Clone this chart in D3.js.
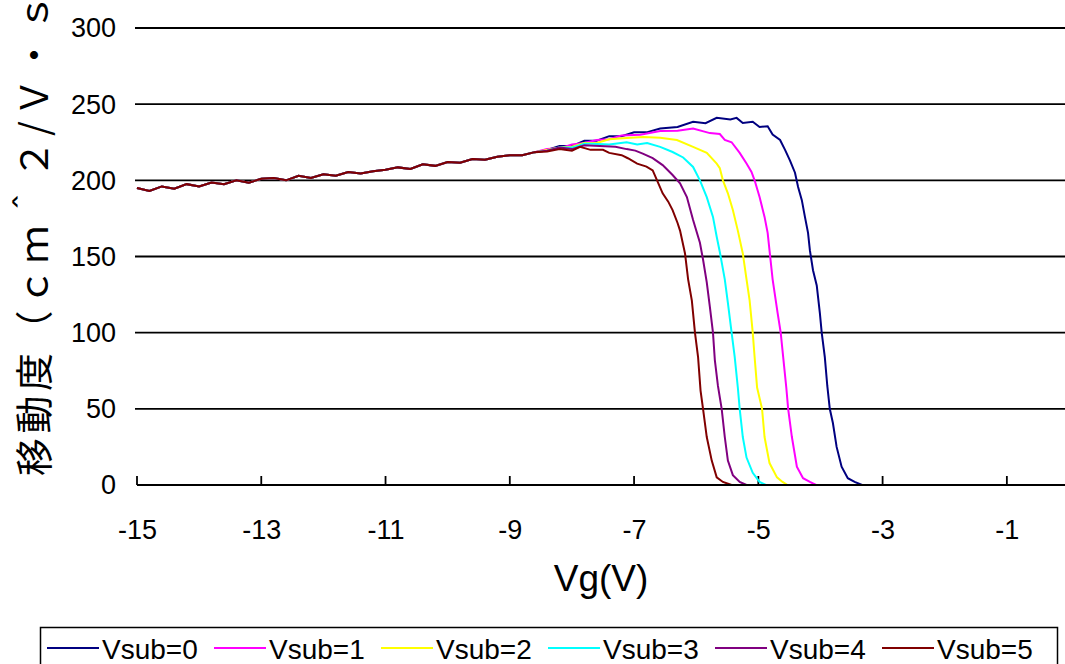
<!DOCTYPE html>
<html>
<head>
<meta charset="utf-8">
<script src="https://cdn.jsdelivr.net/npm/d3@7"></script>
<style>
  html, body { margin: 0; padding: 0; background: #fff; }
  svg { display: block; }
</style>
</head>
<body>
<svg id="chart"></svg>
<script>
// ---- data ----
const vgCommon = [-15, -14.8, -14.6, -14.4, -14.2, -14, -13.8, -13.6, -13.4, -13.2, -13, -12.8, -12.6, -12.4, -12.2, -12,
    -11.8, -11.6, -11.4, -11.2, -11, -10.8, -10.6, -10.4, -10.2, -10, -9.8, -9.6, -9.4, -9.2, -9, -8.8, -8.6];
const muCommon = [195, 193, 196, 194.5, 197.5, 196, 198.5, 197.5, 200, 198.5, 201, 201.5, 200, 203, 201.5, 204,
    203, 205.5, 204.5, 206, 207, 208.5, 207.5, 210.5, 209.5, 212, 211.5, 214, 213.5, 215.5, 216.5, 216.5, 218.5];

const vg0 = [-8.4, -8.2, -8.0, -7.8, -7.6, -7.4, -7.2, -7.0, -6.8, -6.58, -6.3, -6.05, -5.85, -5.67, -5.45, -5.35, -5.25, -5.09,
    -4.98, -4.85, -4.77, -4.65, -4.57, -4.49, -4.41, -4.36, -4.30, -4.25, -4.20, -4.17, -4.12, -4.06, -4.01, -3.98, -3.93,
    -3.89, -3.85, -3.80, -3.74, -3.66, -3.56, -3.45, -3.33];
const mu0 = [220, 222.5, 222.5, 226, 226, 229, 229, 231.5, 231.5, 234, 235, 238.5, 237.5, 241, 240, 241, 237.6, 238.5,
    235, 235.5, 230, 226.5, 220, 213, 205, 195.6, 187, 176, 165.5, 154, 141, 131, 113, 100, 84,
    65, 50, 40.7, 25, 12, 4.5, 2, 0];

const vg1 = [-8.4, -8.2, -8.0, -7.8, -7.6, -7.4, -7.2, -6.9, -6.58, -6.3, -6.05, -5.78, -5.62, -5.54, -5.43, -5.30, -5.19,
    -5.11, -5.06, -4.98, -4.90, -4.85, -4.82, -4.77, -4.69, -4.64, -4.60, -4.55, -4.52, -4.46, -4.38, -4.28, -4.17, -4.07];
const mu1 = [220.5, 221, 223.5, 224.5, 226.5, 227, 229.5, 230, 232.4, 232.5, 234, 231, 230.4, 226.5, 225, 218, 211,
    205.5, 200, 189, 176, 165.5, 154, 135, 113, 100, 84, 64, 50, 31.5, 12, 4.5, 2, 0];

const vg2 = [-8.4, -8.2, -8.0, -7.8, -7.6, -7.4, -7.12, -6.85, -6.58, -6.31, -6.05, -5.83, -5.67, -5.62, -5.57, -5.49, -5.41,
    -5.33, -5.25, -5.19, -5.14, -5.09, -5.06, -5.02, -4.94, -4.90, -4.82, -4.70, -4.61, -4.53];
const mu2 = [220, 221.5, 222, 224.5, 224.5, 227, 227.8, 228.5, 228, 226.5, 222, 218, 211, 208, 200, 191.5, 180.5,
    167, 152, 135, 121, 100, 84, 64, 50, 31.5, 14.4, 5, 2, 0];

const vg3 = [-8.4, -8.2, -8.0, -7.8, -7.66, -7.4, -7.12, -6.95, -6.79, -6.58, -6.38, -6.21, -6.05, -5.94, -5.83, -5.73, -5.67,
    -5.62, -5.54, -5.49, -5.43, -5.38, -5.33, -5.30, -5.25, -5.19, -5.09, -4.98, -4.88];
const mu3 = [219.5, 221.5, 221.5, 224, 224, 223.5, 225, 223.5, 224.5, 222, 218.6, 215, 208.8, 200, 189, 176, 163,
    153, 135, 119.5, 100, 84, 64, 50, 31.5, 18, 8, 2, 0];

const vg4 = [-8.4, -8.2, -8.0, -7.8, -7.55, -7.3, -7.12, -6.98, -6.86, -6.7, -6.54, -6.38, -6.26, -6.15, -6.05, -5.94, -5.89,
    -5.83, -5.78, -5.73, -5.70, -5.65, -5.59, -5.54, -5.49, -5.41, -5.30, -5.19];
const mu4 = [219.5, 221.5, 220.5, 223, 222.5, 222, 220.5, 219.5, 217.5, 214.6, 210, 203.5, 198, 189, 174, 159, 148,
    133, 117, 100, 82, 65, 50, 31.5, 16, 6.5, 2, 0];

const vg5 = [-8.4, -8.2, -8.0, -7.87, -7.7, -7.5, -7.4, -7.2, -7.1, -6.95, -6.8, -6.7, -6.63, -6.54, -6.45, -6.38, -6.3,
    -6.26, -6.18, -6.13, -6.07, -6.02, -5.97, -5.93, -5.89, -5.83, -5.75, -5.67, -5.57, -5.43];
const mu5 = [219, 220.5, 219.5, 222, 220, 220, 218, 216.5, 214.5, 211, 209, 206.5, 200, 191.5, 186, 180.5, 172,
    167, 152, 135, 121, 100, 84, 62, 50, 31.5, 16, 5, 2, 0];

const seriesNames = ["Vsub=0", "Vsub=1", "Vsub=2", "Vsub=3", "Vsub=4", "Vsub=5"];
const seriesColors = ["#000080", "#ff00ff", "#ffff00", "#00ffff", "#800080", "#800000"];
const seriesVg = [vg0, vg1, vg2, vg3, vg4, vg5];
const seriesMu = [mu0, mu1, mu2, mu3, mu4, mu5];

const xTicks = [-15, -13, -11, -9, -7, -5, -3, -1];
const yTicks = [0, 50, 100, 150, 200, 250, 300];
const xTitle = "Vg(V)";
const yTitle = "移動度（ｃｍ＾２/Ｖ・ｓ）";

// ---- layout ----
const width = 1065, height = 664;
const plot = { left: 137, right: 1069, top: 28, bottom: 485 };
const font = "'Liberation Sans', Arial, sans-serif";

const svg = d3.select("#chart")
    .attr("width", width)
    .attr("height", height)
    .attr("viewBox", [0, 0, width, height]);

const x = d3.scaleLinear().domain([-15, 0]).range([plot.left, plot.right]);
const y = d3.scaleLinear().domain([0, 300]).range([plot.bottom, plot.top]);

// gridlines
svg.append("g")
    .selectAll("line")
    .data(yTicks.filter(d => d > 0))
    .join("line")
        .attr("x1", plot.left - 2)
        .attr("x2", width)
        .attr("y1", d => y(d))
        .attr("y2", d => y(d))
        .attr("stroke", "#000")
        .attr("stroke-width", 1.8);

// y tick labels
svg.append("g")
    .attr("font-family", font)
    .attr("font-size", 27)
    .attr("text-anchor", "end")
    .selectAll("text")
    .data(yTicks)
    .join("text")
        .attr("x", 116)
        .attr("y", d => y(d))
        .attr("dy", "0.35em")
        .text(d => d);

// x axis (ticks pointing up into the plot)
const xAxis = d3.axisBottom(x)
    .tickValues(xTicks)
    .tickSize(0)
    .tickFormat(d => d)
    .tickPadding(35);

svg.append("g")
    .attr("transform", `translate(0,${plot.bottom})`)
    .call(xAxis)
    .call(g => g.select(".domain").remove())
    .call(g => g.selectAll("text")
        .attr("font-family", font)
        .attr("font-size", 27)
        .attr("fill", "#000"));

svg.append("g")
    .selectAll("line")
    .data(xTicks)
    .join("line")
        .attr("x1", d => x(d))
        .attr("x2", d => x(d))
        .attr("y1", plot.bottom)
        .attr("y2", plot.bottom - 9)
        .attr("stroke", "#000")
        .attr("stroke-width", 1.8);

// curves
const line = d3.line()
    .curve(d3.curveLinear)
    .x(d => x(d[0]))
    .y(d => y(d[1]));

const seriesData = seriesNames.map((name, i) => ({
    name,
    color: seriesColors[i],
    points: vgCommon.map((v, j) => [v, muCommon[j]])
        .concat(seriesVg[i].map((v, j) => [v, seriesMu[i][j]]))
}));

svg.append("g")
    .attr("fill", "none")
    .attr("stroke-width", 2)
    .attr("stroke-linejoin", "miter")
    .selectAll("path")
    .data(seriesData)
    .join("path")
        .attr("stroke", d => d.color)
        .attr("d", d => line(d.points));

// x axis line on top of the curves
svg.append("line")
    .attr("x1", plot.left)
    .attr("x2", width)
    .attr("y1", plot.bottom)
    .attr("y2", plot.bottom)
    .attr("stroke", "#000")
    .attr("stroke-width", 1.8);

// axis titles
svg.append("text")
    .attr("x", 601)
    .attr("y", 591)
    .attr("text-anchor", "middle")
    .attr("font-family", font)
    .attr("font-size", 37)
    .text(xTitle);

// the reference crops this title at the top edge as well
svg.append("text")
    .attr("transform", "translate(48,476) rotate(-90)")
    .attr("text-anchor", "start")
    .attr("font-family", "'Noto Sans CJK JP', 'Noto Sans CJK SC', sans-serif")
    .attr("font-size", 38)
    .attr("letter-spacing", 4.5)
    .text(yTitle);

// legend
const legend = svg.append("g").attr("transform", "translate(40,627)");
legend.append("rect")
    .attr("x", 0.5)
    .attr("y", 0.5)
    .attr("width", 1017)
    .attr("height", 50)
    .attr("fill", "none")
    .attr("stroke", "#000")
    .attr("stroke-width", 1.5);

const item = legend.selectAll("g.item")
    .data(seriesData)
    .join("g")
        .attr("class", "item")
        .attr("transform", (d, i) => `translate(${7 + i * 167},0)`);
item.append("line")
    .attr("x1", 0)
    .attr("x2", 52)
    .attr("y1", 21)
    .attr("y2", 21)
    .attr("stroke", d => d.color)
    .attr("stroke-width", 2);
item.append("text")
    .attr("x", 55)
    .attr("y", 32)
    .attr("font-family", font)
    .attr("font-size", 28)
    .text(d => d.name);
</script>
</body>
</html>
